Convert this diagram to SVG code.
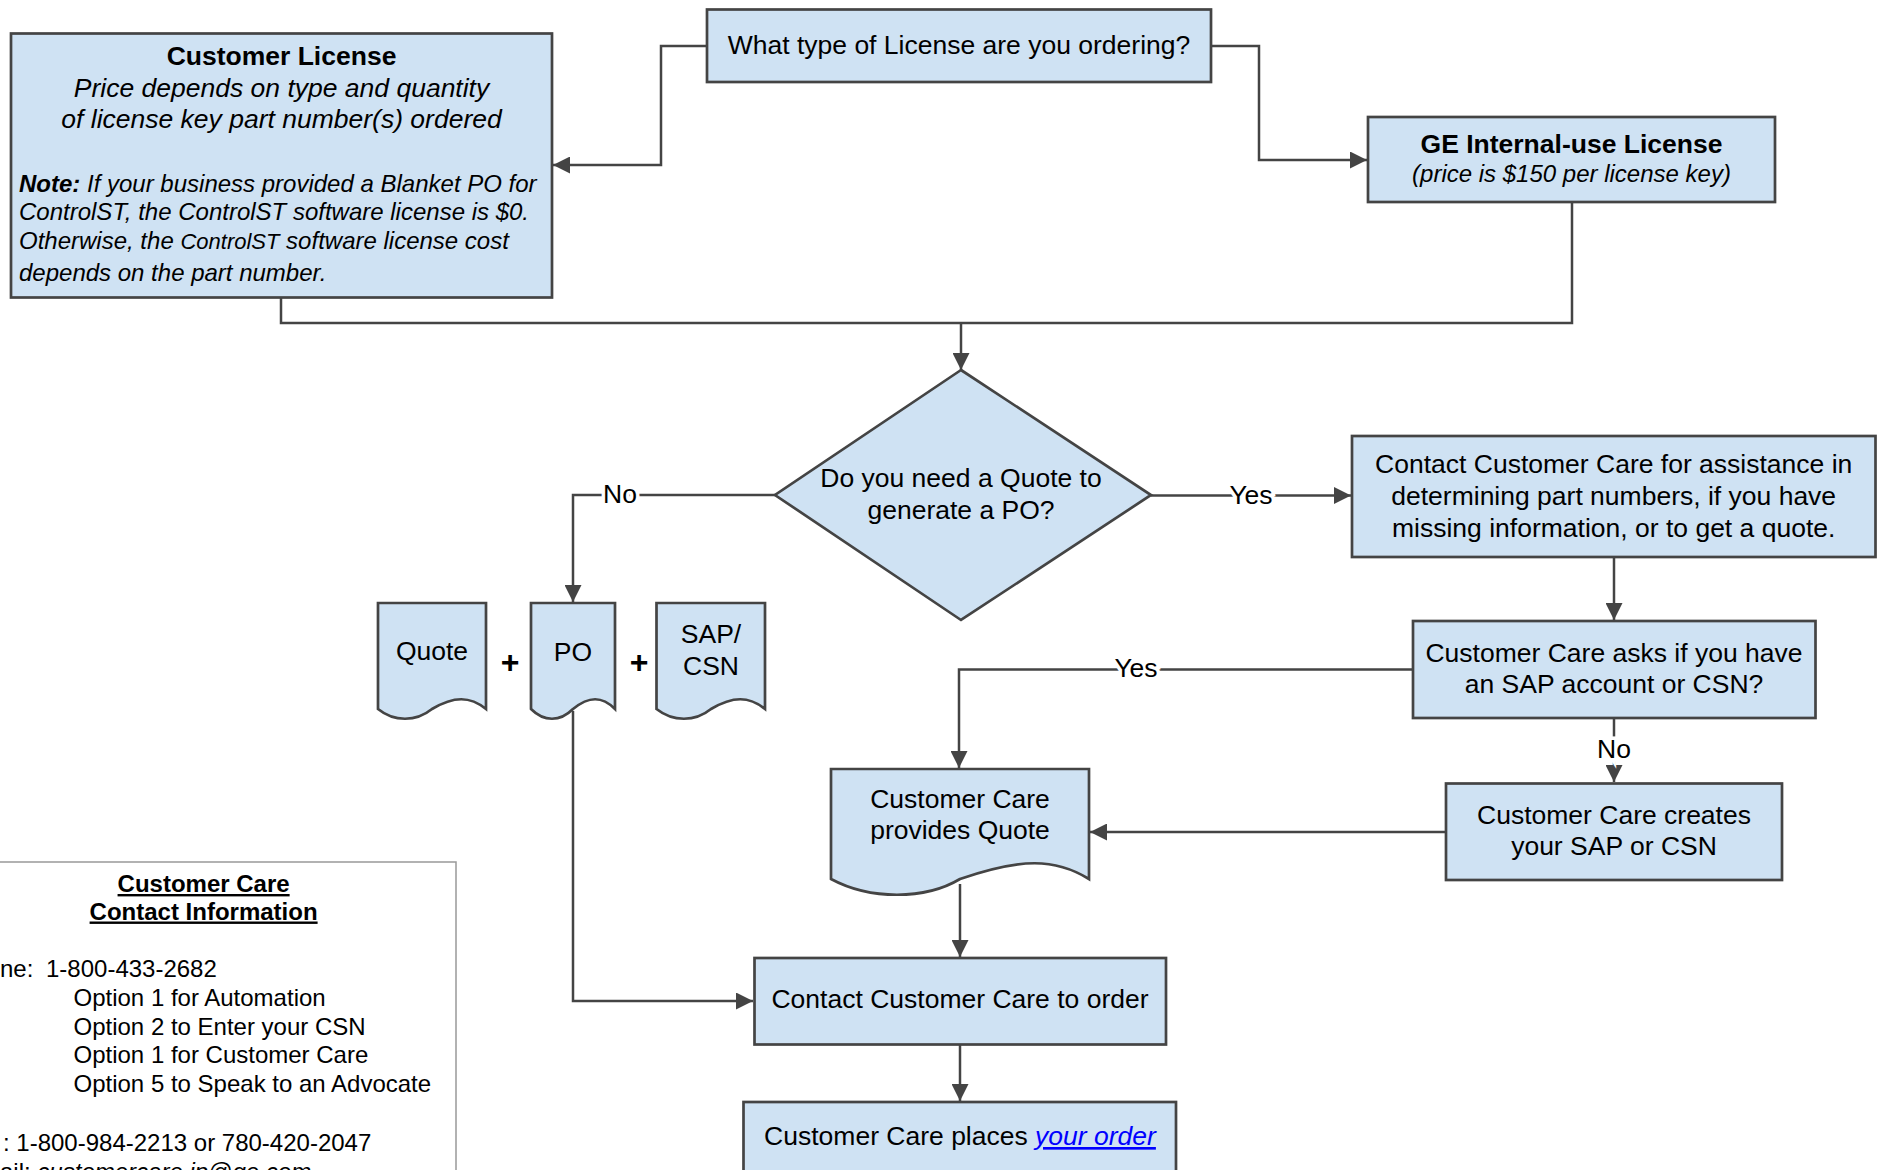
<svg xmlns="http://www.w3.org/2000/svg" width="1882" height="1170" viewBox="0 0 1882 1170">
<style>
text{font-family:"Liberation Sans",Arial,sans-serif;fill:#000;}
.t{font-size:26.5px;text-anchor:middle;}
.b{font-weight:bold;}
.i{font-style:italic;}
.n{font-size:24px;}
.c{font-size:24px;}
.sm{font-size:24px;}
.plus{font-size:32px;font-weight:bold;text-anchor:middle;}
.box{fill:#cfe2f3;stroke:#444;stroke-width:2.7;}
.ln{fill:none;stroke:#444;stroke-width:2.5;}
.arr{marker-end:url(#ah);}
.lbl{font-size:26.5px;text-anchor:middle;stroke:#fff;stroke-width:7;paint-order:stroke;}
</style>
<defs>
<marker id="ah" markerUnits="userSpaceOnUse" markerWidth="18" markerHeight="17" refX="17" refY="8.5" orient="auto">
<path d="M0,0 L17,8.5 L0,17 Z" fill="#444"/>
</marker>
</defs>
<rect width="1882" height="1170" fill="#fff"/>

<g id="connectors">
<path class="ln arr" d="M707,46 H661 V165 H553"/>
<path class="ln arr" d="M1211,46 H1259 V160 H1367"/>
<path class="ln" d="M281,298 V323 H1572 V202"/>
<path class="ln arr" d="M961,323 V370"/>
<path class="ln arr" d="M775,495 H573 V602"/>
<path class="ln arr" d="M1151,495.5 H1351"/>
<path class="ln arr" d="M1614,557 V620"/>
<path class="ln arr" d="M1413,669.5 H959 V768"/>
<path class="ln arr" d="M1614,718 V782"/>
<path class="ln arr" d="M1446,832 H1090"/>
<path class="ln arr" d="M960,884 V957"/>
<path class="ln arr" d="M573,711 V1001 H753"/>
<path class="ln arr" d="M960,1044 V1101"/>
<text class="lbl" x="620" y="503">No</text>
<text class="lbl" x="1251" y="504">Yes</text>
<text class="lbl" x="1136" y="677">Yes</text>
<text class="lbl" x="1614" y="758">No</text>
</g>

<g id="q-type">
<rect class="box" x="707" y="9.5" width="504" height="72.5"/>
<text class="t" x="959" y="54">What type of License are you ordering?</text>
</g>

<g id="customer-license">
<rect class="box" x="11" y="33.5" width="541" height="264"/>
<text class="t b" x="281.5" y="65">Customer License</text>
<text class="t i" x="281.5" y="97">Price depends on type and quantity</text>
<text class="t i" x="281.5" y="128">of license key part number(s) ordered</text>
<text class="n i" x="19" y="192"><tspan class="b">Note:</tspan> If your business provided a Blanket PO for</text>
<text class="n i" x="19" y="220">ControlST, the ControlST software license is $0.</text>
<text class="n i" x="19" y="249">Otherwise, the <tspan style="font-size:22px">ControlST</tspan> software license cost</text>
<text class="n i" x="19" y="281">depends on the part number.</text>
</g>

<g id="ge-license">
<rect class="box" x="1368" y="117" width="407" height="85"/>
<text class="t b" x="1571.5" y="153">GE Internal-use License</text>
<text class="t i" x="1571.5" y="182" style="font-size:24px">(price is $150 per license key)</text>
</g>

<g id="quote-decision">
<path class="box" d="M961,370 L1151,495 L961,620 L775,495 Z"/>
<text class="t" x="961" y="487">Do you need a Quote to</text>
<text class="t" x="961" y="519">generate a PO?</text>
</g>

<g id="doc-quote">
<path class="box" d="M378,603 H486 V709 C470,696 454,696 432,709 C416,722 394,722 378,709 Z"/>
<text class="t" x="432" y="660">Quote</text>
</g>
<text class="plus" x="510" y="673">+</text>
<g id="doc-po">
<path class="box" d="M531,603 H615 V709 C602,696 589,696 573,709 C560,722 544,722 531,709 Z"/>
<text class="t" x="573" y="661">PO</text>
</g>
<text class="plus" x="639" y="673">+</text>
<g id="doc-sap">
<path class="box" d="M656.5,603 H765 V709 C749,696 733,696 711,709 C695,722 673,722 656.5,709 Z"/>
<text class="t" x="711" y="643">SAP/</text>
<text class="t" x="711" y="675">CSN</text>
</g>

<g id="assist">
<rect class="box" x="1352" y="436" width="523.5" height="121"/>
<text class="t" x="1613.7" y="473">Contact Customer Care for assistance in</text>
<text class="t" x="1613.7" y="505">determining part numbers, if you have</text>
<text class="t" x="1613.7" y="537">missing information, or to get a quote.</text>
</g>

<g id="asks">
<rect class="box" x="1413" y="621" width="402.5" height="97"/>
<text class="t" x="1614" y="662">Customer Care asks if you have</text>
<text class="t" x="1614" y="693">an SAP account or CSN?</text>
</g>

<g id="creates">
<rect class="box" x="1446" y="783.5" width="336" height="96.5"/>
<text class="t" x="1614" y="824">Customer Care creates</text>
<text class="t" x="1614" y="855">your SAP or CSN</text>
</g>

<g id="provides-quote">
<path class="box" d="M831,769 H1089 V879 C1055,858 1021,858 960,879 C925,900 870,900 831,879 Z"/>
<text class="t" x="960" y="808">Customer Care</text>
<text class="t" x="960" y="839">provides Quote</text>
</g>

<g id="contact-order">
<rect class="box" x="754.5" y="958" width="411.5" height="86.5"/>
<text class="t" x="960" y="1008">Contact Customer Care to order</text>
</g>

<g id="places-order">
<rect class="box" x="743.5" y="1102" width="432.5" height="100"/>
<text class="t" x="960" y="1145">Customer Care places <tspan class="i" style="fill:#0000ff" text-decoration="underline">your order</tspan></text>
</g>

<g id="contact-info">
<rect x="-2" y="862" width="458" height="330" fill="#fff" stroke="#999" stroke-width="1.5"/>
<text class="c b" x="203.6" y="892" text-anchor="middle" text-decoration="underline">Customer Care</text>
<text class="c b" x="203.6" y="919.5" text-anchor="middle" text-decoration="underline">Contact Information</text>
<text class="c" x="0" y="977">ne:</text>
<text class="c" x="46" y="977">1-800-433-2682</text>
<text class="c" x="73.5" y="1006">Option 1 for Automation</text>
<text class="c" x="73.5" y="1034.7">Option 2 to Enter your CSN</text>
<text class="c" x="73.5" y="1063.4">Option 1 for Customer Care</text>
<text class="c" x="73.5" y="1092">Option 5 to Speak to an Advocate</text>
<text class="c" x="3" y="1151">: 1-800-984-2213 or 780-420-2047</text>
<text class="c" x="0" y="1180">ail: <tspan class="i">customercare.ip@ge.com</tspan></text>
</g>
</svg>
